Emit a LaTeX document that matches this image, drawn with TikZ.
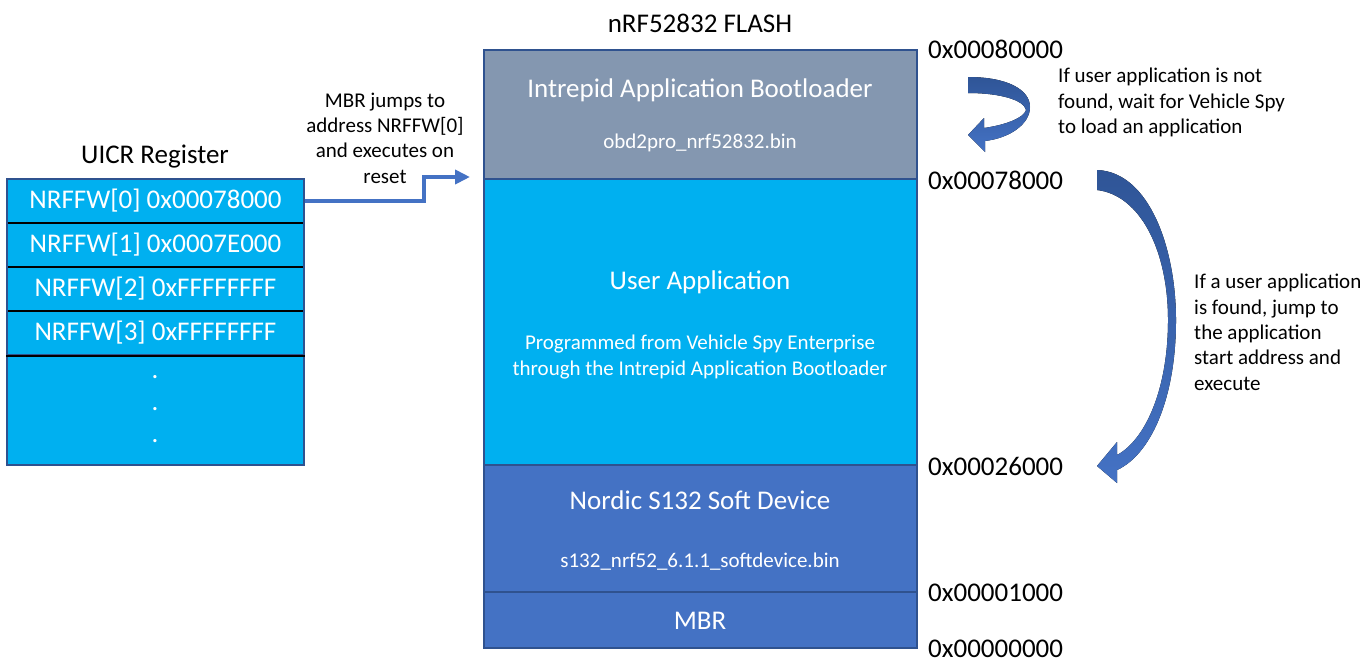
\documentclass[tikz,border=0pt]{standalone}
\usepackage{fontspec}
\setmainfont{Carlito}
\usetikzlibrary{arrows.meta}

\definecolor{bootgray}{HTML}{8497B0}
\definecolor{appblue}{HTML}{00B0F0}
\definecolor{sdblue}{HTML}{4472C4}
\definecolor{edgeblue}{HTML}{2F528F}
\definecolor{darkarrow}{HTML}{2F5597}

\tikzset{
    bigtxt/.style={font=\fontsize{27}{32}\selectfont},
    smalltxt/.style={font=\fontsize{21}{25.4}\selectfont},
    regrow/.style={draw=black, line width=1.5pt, fill=appblue, text=white, bigtxt,
                   minimum width=297pt, minimum height=44pt, inner sep=0pt},
    flashsec/.style={draw=edgeblue, line width=2pt, minimum width=433pt, inner sep=0pt},
    addr/.style={bigtxt, anchor=west, inner sep=0pt},
    note/.style={smalltxt, align=left, anchor=north west, inner sep=0pt},
    blockarrow/.style={top color=darkarrow, bottom color=sdblue, draw=none}
}

\begin{document}
\begin{tikzpicture}[x=1pt, y=-1pt]
    \useasboundingbox (0,0) rectangle (1372,665);

    % UICR register
    \node[bigtxt] (uicrtitle) at (155,157) {UICR Register};
    \node[regrow] (reg0) at (155.5,201) {NRFFW[0] 0x00078000};
    \node[regrow] (reg1) at (155.5,245) {NRFFW[1] 0x0007E000};
    \node[regrow] (reg2) at (155.5,289) {NRFFW[2] 0xFFFFFFFF};
    \node[regrow] (reg3) at (155.5,333) {NRFFW[3] 0xFFFFFFFF};
    \node[regrow, draw=edgeblue, minimum height=110pt] (regrest) at (155.5,410) {};
    \node[bigtxt, text=white] (dot1) at (155,377) {.};
    \node[bigtxt, text=white] (dot2) at (155,409) {.};
    \node[bigtxt, text=white] (dot3) at (155,441) {.};
    \draw[edgeblue, line width=2pt] (7,179) rectangle (304,465);
    \draw[black, line width=1.5pt] (reg3.south west) -- (reg3.south east);

    % flash map
    \node[bigtxt] (flashtitle) at (700,23) {nRF52832 FLASH};
    \node[flashsec, fill=bootgray, minimum height=129pt] (boot) at (700.5,114.5) {};
    \node[flashsec, fill=appblue, minimum height=286pt] (userapp) at (700.5,322) {};
    \node[flashsec, fill=sdblue, minimum height=127pt] (softdev) at (700.5,528.5) {};
    \node[flashsec, fill=sdblue, minimum height=56pt] (mbr) at (700.5,620) {};

    \node[bigtxt, text=white] (boottxt) at (700,90) {Intrepid Application Bootloader};
    \node[smalltxt, text=white] (bootfile) at (700,143) {obd2pro\_nrf52832.bin};
    \node[bigtxt, text=white] (apptxt) at (700,282) {User Application};
    \node[smalltxt, text=white, align=center] (appnote) at (700,357)
        {Programmed from Vehicle Spy Enterprise\\through the Intrepid Application Bootloader};
    \node[bigtxt, text=white] (sdtxt) at (700,500) {Nordic S132 Soft Device};
    \node[smalltxt, text=white] (sdfile) at (700,562) {s132\_nrf52\_6.1.1\_softdevice.bin};
    \node[bigtxt, text=white] (mbrtxt) at (700,621) {MBR};

    % addresses
    \node[addr] (a80000) at (928,49) {0x00080000};
    \node[addr] (a78000) at (928,180) {0x00078000};
    \node[addr] (a26000) at (928,466) {0x00026000};
    \node[addr] (a01000) at (928,593) {0x00001000};
    \node[addr] (a00000) at (928,649) {0x00000000};

    % MBR jump
    \node[smalltxt, align=center] (jumpnote) at (385,138)
        {MBR jumps to\\address NRFFW[0]\\and executes on\\reset};
    \coordinate (jumpend) at (470,177);
    \draw[sdblue, line width=4pt, -{Triangle[length=15pt,width=14pt]}]
        (reg0.east) -- (424,201) |- (jumpend);

    % wait loop
    \fill[blockarrow] (968,77) .. controls (1008,77) and (1030,90) .. (1030,107)
        .. controls (1030,124) and (1010,138) .. (985,141) -- (985,152) -- (968,135)
        -- (984,118) -- (984,128) .. controls (1005,125) and (1024,118) .. (1026,110)
        .. controls (1024,100) and (1000,93) .. (968,93) -- cycle;
    \node[note] (waitnote) at (1058,68) {If user application is not\\found, wait for Vehicle Spy\\to load an application};

    % jump to application
    \fill[blockarrow] (1097,170) .. controls (1150,172) and (1176,250) .. (1176,320)
        .. controls (1176,400) and (1150,455) .. (1117,470) -- (1117,483) -- (1097,466)
        -- (1117,442) -- (1117,455) .. controls (1145,440) and (1168,390) .. (1168,320)
        .. controls (1168,250) and (1140,195) .. (1097,190) -- cycle;
    \node[note] (jumpappnote) at (1194,274) {If a user application\\is found, jump to\\the application\\start address and\\execute};
\end{tikzpicture}
\end{document}
